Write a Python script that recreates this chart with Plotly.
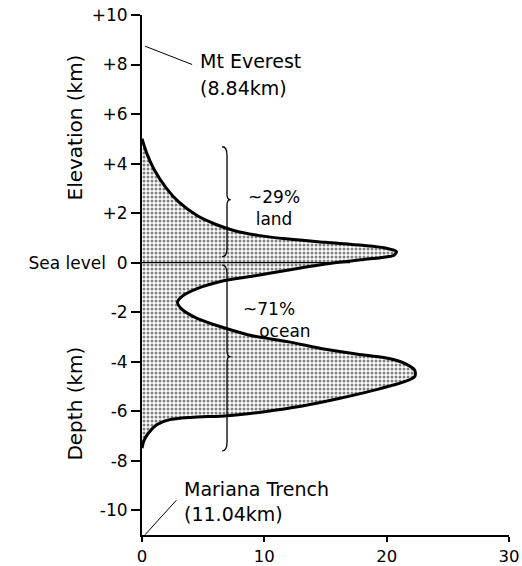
import plotly.graph_objects as go

# ---- data: hypsometric curve (percent of Earth's surface vs elevation, km)
curve_pct = [0, 0.4, 1.0, 2.0, 3.0, 4.5, 6.0, 7.5, 9.5, 12, 15, 18, 19.8, 20.8,
             20.6, 19.5, 18, 15, 12, 9, 6.5, 4.5, 3.3, 2.9, 3.3, 4.5, 6.5, 9, 12, 15,
             18, 20.3, 21.6, 22.3, 22.3, 21.4, 19, 16, 13, 10, 7, 4, 2.2, 1.2, 0.5,
             0.15, 0]
curve_elev = [5.0, 4.4, 3.75, 3.0, 2.45, 1.9, 1.55, 1.3, 1.1, 0.95, 0.82, 0.7,
              0.6, 0.45, 0.3, 0.2, 0.12, -0.06, -0.3, -0.55, -0.75, -1.05, -1.35,
              -1.6, -1.9, -2.25, -2.6, -2.95, -3.2, -3.5, -3.72, -3.88, -4.1,
              -4.35, -4.6, -4.82, -5.15, -5.5, -5.8, -6.02, -6.18, -6.25, -6.35,
              -6.55, -6.9, -7.2, -7.5]

x_ticks = [0, 10, 20, 30]
y_ticks = [10, 8, 6, 4, 2, 0, -2, -4, -6, -8, -10]
y_ticktext = ["+10", "+8", "+6", "+4", "+2", "Sea level  0", "-2", "-4", "-6", "-8", "-10"]

everest_km = 8.84
mariana_km = -11.04
land_label = "~29%<br>land"
ocean_label = "~71%<br>\u00a0\u00a0\u00a0ocean"

FONT = "DejaVu Sans"

fig = go.Figure()

# dotted fill
fig.add_trace(go.Scatter(
    x=curve_pct + [0], y=curve_elev + [curve_elev[0]],
    mode="lines", line=dict(width=0, shape="spline", smoothing=0.8),
    fill="toself", fillcolor="white",
    fillpattern=dict(shape=".", size=4, solidity=0.45, fgcolor="black", bgcolor="white"),
    hoverinfo="skip", showlegend=False))
# outline
fig.add_trace(go.Scatter(
    x=curve_pct, y=curve_elev, mode="lines",
    line=dict(color="black", width=3, shape="spline", smoothing=0.8),
    hoverinfo="skip", showlegend=False))
# sea level line
fig.add_trace(go.Scatter(x=[0, 17], y=[0, 0], mode="lines",
                         line=dict(color="black", width=1.2),
                         hoverinfo="skip", showlegend=False))


def brace(xv, ytop, ymid, ybot, hx=0.4, hy=0.35, tx=0.3, ty=0.2):
    return (f"M {xv-hx},{ytop} Q {xv},{ytop} {xv},{ytop-hy} "
            f"L {xv},{ymid+ty} Q {xv},{ymid} {xv+tx},{ymid} "
            f"Q {xv},{ymid} {xv},{ymid-ty} "
            f"L {xv},{ybot+hy} Q {xv},{ybot} {xv-hx},{ybot}")


brace_x = 6.95
shapes = [
    dict(type="path", xref="x", yref="y", path=brace(brace_x, 4.68, 2.54, 0.24),
         line=dict(color="black", width=1.3)),
    dict(type="path", xref="x", yref="y", path=brace(brace_x, -0.1, -3.8, -7.6),
         line=dict(color="black", width=1.3)),
    dict(type="line", xref="x", yref="y", x0=0.25, y0=everest_km - 0.1, x1=4.1, y1=8.0,
         line=dict(color="black", width=1)),
    dict(type="line", xref="x", yref="y", x0=0.25, y0=mariana_km + 0.05, x1=2.8, y1=-9.6,
         line=dict(color="black", width=1)),
]

tf = dict(family=FONT, size=19, color="black")
sf = dict(family=FONT, size=17, color="black")
ann = [
    dict(x=4.55, y=8.15, text="Mt Everest", xanchor="left", yanchor="middle", font=tf),
    dict(x=4.55, y=7.05, text=f"({everest_km:.2f}km)", xanchor="left", yanchor="middle", font=tf),
    dict(x=3.25, y=-9.15, text="Mariana Trench", xanchor="left", yanchor="middle", font=tf),
    dict(x=3.25, y=-10.15, text=f"({abs(mariana_km):.2f}km)", xanchor="left", yanchor="middle", font=tf),
    dict(x=10.8, y=2.2, text=land_label, xanchor="center", yanchor="middle", align="center", font=sf),
    dict(x=8.1, y=-2.3, text=ocean_label, xanchor="left", yanchor="middle", align="left", font=sf),
    dict(x=-0.183, y=5.45, xref="paper", yref="y", text="Elevation (km)", textangle=-90,
         xanchor="center", yanchor="middle", font=dict(family=FONT, size=20, color="black")),
    dict(x=-0.183, y=-5.7, xref="paper", yref="y", text="Depth (km)", textangle=-90,
         xanchor="center", yanchor="middle", font=dict(family=FONT, size=20, color="black")),
]
for a in ann:
    a.setdefault("xref", "x")
    a.setdefault("yref", "y")
    a["showarrow"] = False

fig.update_layout(
    width=522, height=566,
    margin=dict(l=142, r=13, t=15, b=31, autoexpand=False),
    paper_bgcolor="white", plot_bgcolor="white",
    shapes=shapes, annotations=ann, showlegend=False,
    xaxis=dict(range=[0, 30], tickvals=x_ticks, ticks="outside", ticklen=5,
               tickwidth=1.5, tickcolor="black", showline=True, linewidth=2,
               linecolor="black", showgrid=False, zeroline=False, automargin=False,
               tickfont=dict(family=FONT, size=16.5, color="black")),
    yaxis=dict(range=[-11, 10], tickvals=y_ticks, ticktext=y_ticktext,
               ticks="outside", ticklen=9, tickwidth=1.5, tickcolor="black",
               showline=True, linewidth=2, linecolor="black", showgrid=False,
               zeroline=False, automargin=False,
               tickfont=dict(family=FONT, size=17, color="black")),
)

fig.write_html("out.html")
